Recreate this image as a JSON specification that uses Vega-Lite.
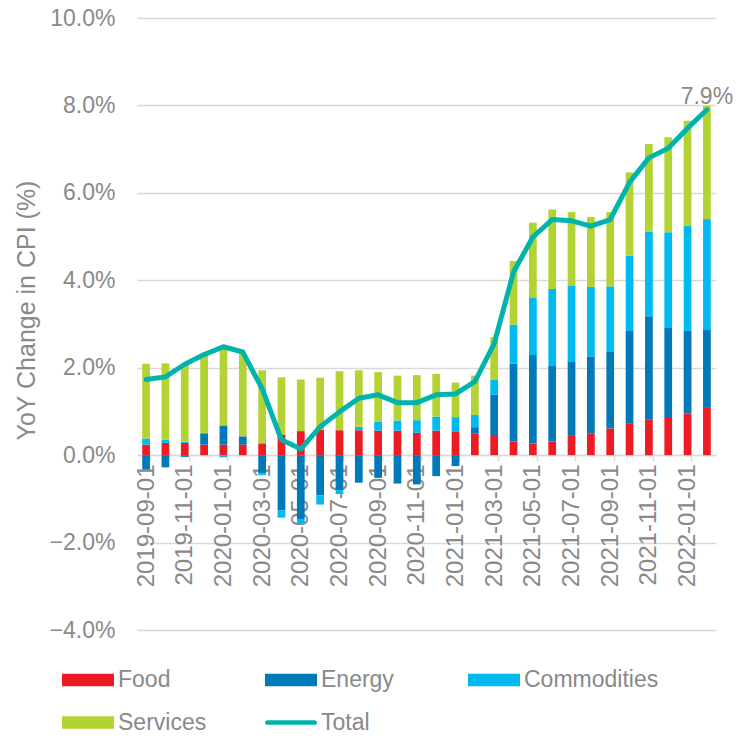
{
  "$schema": "https://vega.github.io/schema/vega-lite/v6.json",
  "width": 579,
  "height": 612,
  "autosize": {"type": "none"},
  "padding": {"left": 137, "top": 18, "right": 22, "bottom": 106},
  "background": "white",
  "config": {"view": {"stroke": null}, "font": "Liberation Sans"},
  "datasets": {
    "parts": [
      {"date":"2019-09-01","cat":"Food","value":0.24},{"date":"2019-09-01","cat":"Energy","value":-0.33},{"date":"2019-09-01","cat":"Commodities","value":0.14},{"date":"2019-09-01","cat":"Services","value":1.71},
      {"date":"2019-10-01","cat":"Food","value":0.28},{"date":"2019-10-01","cat":"Energy","value":-0.28},{"date":"2019-10-01","cat":"Commodities","value":0.07},{"date":"2019-10-01","cat":"Services","value":1.75},
      {"date":"2019-11-01","cat":"Food","value":0.28},{"date":"2019-11-01","cat":"Energy","value":-0.04},{"date":"2019-11-01","cat":"Commodities","value":0.03},{"date":"2019-11-01","cat":"Services","value":1.77},
      {"date":"2019-12-01","cat":"Food","value":0.24},{"date":"2019-12-01","cat":"Energy","value":0.26},{"date":"2019-12-01","cat":"Commodities","value":0.0},{"date":"2019-12-01","cat":"Services","value":1.79},
      {"date":"2020-01-01","cat":"Food","value":0.24},{"date":"2020-01-01","cat":"Energy","value":0.44},{"date":"2020-01-01","cat":"Commodities","value":-0.05},{"date":"2020-01-01","cat":"Services","value":1.79},
      {"date":"2020-02-01","cat":"Food","value":0.24},{"date":"2020-02-01","cat":"Energy","value":0.19},{"date":"2020-02-01","cat":"Commodities","value":0.0},{"date":"2020-02-01","cat":"Services","value":1.88},
      {"date":"2020-03-01","cat":"Food","value":0.27},{"date":"2020-03-01","cat":"Energy","value":-0.42},{"date":"2020-03-01","cat":"Commodities","value":-0.04},{"date":"2020-03-01","cat":"Services","value":1.67},
      {"date":"2020-04-01","cat":"Food","value":0.47},{"date":"2020-04-01","cat":"Energy","value":-1.26},{"date":"2020-04-01","cat":"Commodities","value":-0.17},{"date":"2020-04-01","cat":"Services","value":1.31},
      {"date":"2020-05-01","cat":"Food","value":0.55},{"date":"2020-05-01","cat":"Energy","value":-1.46},{"date":"2020-05-01","cat":"Commodities","value":-0.10},{"date":"2020-05-01","cat":"Services","value":1.18},
      {"date":"2020-06-01","cat":"Food","value":0.58},{"date":"2020-06-01","cat":"Energy","value":-0.92},{"date":"2020-06-01","cat":"Commodities","value":-0.21},{"date":"2020-06-01","cat":"Services","value":1.19},
      {"date":"2020-07-01","cat":"Food","value":0.57},{"date":"2020-07-01","cat":"Energy","value":-0.80},{"date":"2020-07-01","cat":"Commodities","value":-0.09},{"date":"2020-07-01","cat":"Services","value":1.35},
      {"date":"2020-08-01","cat":"Food","value":0.57},{"date":"2020-08-01","cat":"Energy","value":-0.63},{"date":"2020-08-01","cat":"Commodities","value":0.08},{"date":"2020-08-01","cat":"Services","value":1.29},
      {"date":"2020-09-01","cat":"Food","value":0.56},{"date":"2020-09-01","cat":"Energy","value":-0.52},{"date":"2020-09-01","cat":"Commodities","value":0.21},{"date":"2020-09-01","cat":"Services","value":1.13},
      {"date":"2020-10-01","cat":"Food","value":0.56},{"date":"2020-10-01","cat":"Energy","value":-0.65},{"date":"2020-10-01","cat":"Commodities","value":0.23},{"date":"2020-10-01","cat":"Services","value":1.03},
      {"date":"2020-11-01","cat":"Food","value":0.51},{"date":"2020-11-01","cat":"Energy","value":-0.67},{"date":"2020-11-01","cat":"Commodities","value":0.29},{"date":"2020-11-01","cat":"Services","value":1.03},
      {"date":"2020-12-01","cat":"Food","value":0.56},{"date":"2020-12-01","cat":"Energy","value":-0.48},{"date":"2020-12-01","cat":"Commodities","value":0.32},{"date":"2020-12-01","cat":"Services","value":0.98},
      {"date":"2021-01-01","cat":"Food","value":0.53},{"date":"2021-01-01","cat":"Energy","value":-0.25},{"date":"2021-01-01","cat":"Commodities","value":0.34},{"date":"2021-01-01","cat":"Services","value":0.79},
      {"date":"2021-02-01","cat":"Food","value":0.49},{"date":"2021-02-01","cat":"Energy","value":0.15},{"date":"2021-02-01","cat":"Commodities","value":0.28},{"date":"2021-02-01","cat":"Services","value":0.90},
      {"date":"2021-03-01","cat":"Food","value":0.46},{"date":"2021-03-01","cat":"Energy","value":0.92},{"date":"2021-03-01","cat":"Commodities","value":0.34},{"date":"2021-03-01","cat":"Services","value":0.98},
      {"date":"2021-04-01","cat":"Food","value":0.31},{"date":"2021-04-01","cat":"Energy","value":1.78},{"date":"2021-04-01","cat":"Commodities","value":0.89},{"date":"2021-04-01","cat":"Services","value":1.46},
      {"date":"2021-05-01","cat":"Food","value":0.27},{"date":"2021-05-01","cat":"Energy","value":2.02},{"date":"2021-05-01","cat":"Commodities","value":1.32},{"date":"2021-05-01","cat":"Services","value":1.71},
      {"date":"2021-06-01","cat":"Food","value":0.31},{"date":"2021-06-01","cat":"Energy","value":1.73},{"date":"2021-06-01","cat":"Commodities","value":1.76},{"date":"2021-06-01","cat":"Services","value":1.82},
      {"date":"2021-07-01","cat":"Food","value":0.44},{"date":"2021-07-01","cat":"Energy","value":1.69},{"date":"2021-07-01","cat":"Commodities","value":1.74},{"date":"2021-07-01","cat":"Services","value":1.69},
      {"date":"2021-08-01","cat":"Food","value":0.50},{"date":"2021-08-01","cat":"Energy","value":1.76},{"date":"2021-08-01","cat":"Commodities","value":1.59},{"date":"2021-08-01","cat":"Services","value":1.60},
      {"date":"2021-09-01","cat":"Food","value":0.61},{"date":"2021-09-01","cat":"Energy","value":1.75},{"date":"2021-09-01","cat":"Commodities","value":1.50},{"date":"2021-09-01","cat":"Services","value":1.70},
      {"date":"2021-10-01","cat":"Food","value":0.72},{"date":"2021-10-01","cat":"Energy","value":2.12},{"date":"2021-10-01","cat":"Commodities","value":1.72},{"date":"2021-10-01","cat":"Services","value":1.91},
      {"date":"2021-11-01","cat":"Food","value":0.82},{"date":"2021-11-01","cat":"Energy","value":2.36},{"date":"2021-11-01","cat":"Commodities","value":1.93},{"date":"2021-11-01","cat":"Services","value":2.01},
      {"date":"2021-12-01","cat":"Food","value":0.85},{"date":"2021-12-01","cat":"Energy","value":2.06},{"date":"2021-12-01","cat":"Commodities","value":2.19},{"date":"2021-12-01","cat":"Services","value":2.17},
      {"date":"2022-01-01","cat":"Food","value":0.95},{"date":"2022-01-01","cat":"Energy","value":1.89},{"date":"2022-01-01","cat":"Commodities","value":2.40},{"date":"2022-01-01","cat":"Services","value":2.41},
      {"date":"2022-02-01","cat":"Food","value":1.08},{"date":"2022-02-01","cat":"Energy","value":1.80},{"date":"2022-02-01","cat":"Commodities","value":2.52},{"date":"2022-02-01","cat":"Services","value":2.59}
    ],
    "totals": [
      {"date":"2019-09-01","total":1.73},{"date":"2019-10-01","total":1.79},{"date":"2019-11-01","total":2.08},{"date":"2019-12-01","total":2.3},
      {"date":"2020-01-01","total":2.48},{"date":"2020-02-01","total":2.36},{"date":"2020-03-01","total":1.52},{"date":"2020-04-01","total":0.35},
      {"date":"2020-05-01","total":0.14},{"date":"2020-06-01","total":0.65},{"date":"2020-07-01","total":0.99},{"date":"2020-08-01","total":1.3},
      {"date":"2020-09-01","total":1.38},{"date":"2020-10-01","total":1.2},{"date":"2020-11-01","total":1.2},{"date":"2020-12-01","total":1.38},
      {"date":"2021-01-01","total":1.4},{"date":"2021-02-01","total":1.68},{"date":"2021-03-01","total":2.55},{"date":"2021-04-01","total":4.19},
      {"date":"2021-05-01","total":4.99},{"date":"2021-06-01","total":5.39},{"date":"2021-07-01","total":5.36},{"date":"2021-08-01","total":5.24},
      {"date":"2021-09-01","total":5.39},{"date":"2021-10-01","total":6.24},{"date":"2021-11-01","total":6.8},{"date":"2021-12-01","total":7.02},
      {"date":"2022-01-01","total":7.48},{"date":"2022-02-01","total":7.9}
    ],
    "endlabel": [{"date":"2022-02-01","total":7.9,"label":"7.9%"}]
  },
  "layer": [
    {
      "data": {"name": "parts"},
      "transform": [
        {"calculate": "indexof(['Food','Energy','Commodities','Services'], datum.cat)", "as": "stackRank"}
      ],
      "mark": {"type": "bar"},
      "encoding": {
        "x": {
          "field": "date", "type": "nominal",
          "scale": {"paddingInner": 0.6, "paddingOuter": 0.27},
          "axis": {
            "title": null, "orient": "bottom", "offset": -175,
            "values": ["2019-09-01","2019-11-01","2020-01-01","2020-03-01","2020-05-01","2020-07-01","2020-09-01","2020-11-01","2021-01-01","2021-03-01","2021-05-01","2021-07-01","2021-09-01","2021-11-01","2022-01-01"],
            "labelAngle": 270, "labelAlign": "right", "labelBaseline": "middle",
            "labelFontSize": 24, "labelColor": "#898989", "labelPadding": 3, "labelFont": "Liberation Sans",
            "tickBand": "extent", "tickSize": 6, "tickColor": "#d9d9d9", "tickWidth": 1.5,
            "domainColor": "#d9d9d9", "domainWidth": 1.5, "grid": false, "labelOverlap": false
          }
        },
        "y": {
          "field": "value", "type": "quantitative", "stack": "zero",
          "scale": {"domain": [-4, 10], "nice": false, "zero": false},
          "axis": {
            "values": [-4, -2, 0, 2, 4, 6, 8, 10],
            "labelExpr": "format(datum.value, '.1f') + '%'",
            "domain": false, "ticks": false, "labelPadding": 22,
            "labelFontSize": 23, "labelColor": "#898989", "labelFont": "Liberation Sans",
            "grid": true, "gridColor": "#d9d9d9", "gridWidth": 1.3,
            "title": "YoY Change in CPI (%)", "titleFontSize": 25, "titleFontWeight": "normal",
            "titleColor": "#898989", "titleFont": "Liberation Sans", "titlePadding": 10, "titleY": 292
          }
        },
        "order": {"field": "stackRank", "type": "quantitative", "sort": "ascending"},
        "color": {
          "field": "cat", "type": "nominal",
          "scale": {
            "domain": ["Food", "Energy", "Commodities", "Services", "Total"],
            "range": ["#ED1C24", "#0079B8", "#00BAF0", "#B3D334", "#00B3AB"]
          },
          "legend": {
            "title": null, "orient": "none", "legendX": -75, "legendY": 636,
            "direction": "horizontal",
            "columns": 3, "gridAlign": "all", "columnPadding": 12, "rowPadding": 4.5,
            "padding": 0, "symbolSize": 2704, "labelOffset": 4,
            "labelFontSize": 23, "labelColor": "#898989", "labelFont": "Liberation Sans",
            "values": ["Food", "Energy", "Commodities", "Services", "Total"],
            "encode": {
              "symbols": {
                "update": {
                  "shape": {"signal": "datum.value === 'Total' ? 'M-0.91,-0.09H0.91A0.09,0.09 0 0 1 0.91,0.09H-0.91A0.09,0.09 0 0 1 -0.91,-0.09Z' : 'M-1,-0.24H1V0.24H-1Z'"},
                  "fill": {"scale": "color", "field": "value"},
                  "stroke": {"value": "transparent"},
                  "strokeWidth": {"value": 0},
                  "opacity": {"value": 1},
                  "fillOpacity": {"value": 1}
                }
              }
            }
          }
        }
      }
    },
    {
      "data": {"name": "totals"},
      "mark": {"type": "line", "strokeWidth": 5, "strokeCap": "round", "strokeJoin": "round", "color": "#00B3AB"},
      "encoding": {
        "x": {"field": "date", "type": "nominal"},
        "y": {"field": "total", "type": "quantitative"}
      }
    },
    {
      "data": {"name": "endlabel"},
      "mark": {"type": "text", "fontSize": 23, "color": "#898989", "dy": -6, "baseline": "alphabetic", "align": "center", "font": "Liberation Sans"},
      "encoding": {
        "x": {"field": "date", "type": "nominal"},
        "y": {"field": "total", "type": "quantitative"},
        "text": {"field": "label"}
      }
    }
  ]
}
